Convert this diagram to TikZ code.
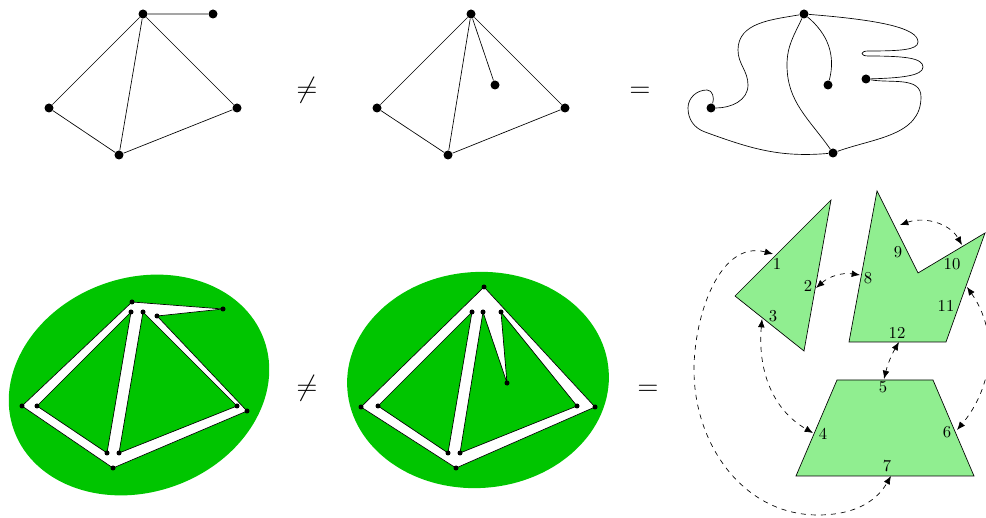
\documentclass[tikz,border=0pt]{standalone}
\usepackage{tikz}
\usetikzlibrary{arrows.meta, positioning, calc}
\definecolor{blobgreen}{RGB}{0,197,0}
\definecolor{piecegreen}{RGB}{144,238,144}

\begin{document}
\begin{tikzpicture}[x=0.6pt, y=-0.6pt, >={Latex[length=5pt,width=4pt]}]
  \tikzset{gnode/.style={circle, fill, minimum size=5.4pt, inner sep=0pt}}
  \tikzset{pnode/.style={circle, fill, minimum size=3pt, inner sep=0pt}}
  \tikzset{relsign/.style={font=\LARGE, inner sep=0pt}}
  \tikzset{edgelab/.style={inner sep=0pt}}
  \tikzset{glue/.style={<->, dashed}}
  \useasboundingbox (0,0) rectangle (986,518);

  % top row
  \node[gnode] (a1) at (143,14) {};
  \node[gnode] (a2) at (213,14) {};
  \node[gnode] (a3) at (49,108) {};
  \node[gnode] (a4) at (119,155) {};
  \node[gnode] (a5) at (237,108) {};
  \draw (a1) -- (a2) (a1) -- (a3) (a1) -- (a4) (a1) -- (a5) (a3) -- (a4) (a4) -- (a5);

  \node[relsign] (neqtop) at (307,90) {$\neq$};

  \node[gnode] (b1) at (471,14) {};
  \node[gnode] (b2) at (495,85) {};
  \node[gnode] (b3) at (377,108) {};
  \node[gnode] (b4) at (448,155) {};
  \node[gnode] (b5) at (565,108) {};
  \draw (b1) -- (b2) (b1) -- (b3) (b1) -- (b4) (b1) -- (b5) (b3) -- (b4) (b4) -- (b5);

  \node[relsign] (eqtop) at (640,92) {$=$};

  \node[gnode] (c1) at (804,14) {};
  \node[gnode] (c2) at (828,85) {};
  \node[gnode] (c3) at (866,79) {};
  \node[gnode] (c4) at (711,108) {};
  \node[gnode] (c5) at (833,153) {};
  \draw (c1) to[out=190,in=90] (738,50) to[out=-90,in=90] (748,85) to[out=-90,in=0] (c4);
  \draw (c4) to[out=70,in=0] (707,90) to[out=180,in=90] (688,108) to[out=-90,in=160] (705,132) to[out=-20,in=185] (c5);
  \draw (c1) to[out=245,in=90] (787,65) to[out=-90,in=125] (c5);
  \draw (c1) to[out=-40,in=75] (c2);
  \draw (c1) .. controls (880,20) and (918,28) .. (918,42) .. controls (918,50) and (900,51) .. (868,51)
    .. controls (860,51) and (860,56) .. (868,56) .. controls (905,56) and (923,58) .. (923,67)
    .. controls (923,76) and (900,78) .. (c3);
  \draw (c3) to[out=-10,in=90] (921,97) to[out=-90,in=20] (c5);

  % bottom row, thickened graphs
  \fill[blobgreen, rotate around={20:(139,385)}] (139,385) ellipse [x radius=133, y radius=107];
  \coordinate (p1) at (132,302);
  \coordinate (p2) at (223,309);
  \coordinate (p3) at (157,316);
  \coordinate (p4) at (247,411);
  \coordinate (p5) at (113,468);
  \coordinate (p6) at (22,406);
  \coordinate (p7) at (131,312);
  \coordinate (p8) at (37,406);
  \coordinate (p9) at (107,453);
  \coordinate (p10) at (143,312);
  \coordinate (p11) at (119,453);
  \coordinate (p12) at (237,406);
  \draw[fill=white] (p1) -- (p2) -- (p3) -- (p4) -- (p5) -- (p6) -- cycle;
  \draw[fill=blobgreen] (p7) -- (p8) -- (p9) -- cycle;
  \draw[fill=blobgreen] (p10) -- (p11) -- (p12) -- cycle;
  \foreach \p in {p1,p2,p3,p4,p5,p6,p7,p8,p9,p10,p11,p12}
    \node[pnode] (dot\p) at (\p) {};

  \node[relsign] (neqbot) at (307,388) {$\neq$};

  \fill[blobgreen, rotate around={4:(478,380)}] (478,380) ellipse [x radius=131, y radius=108];
  \coordinate (q1) at (484,287);
  \coordinate (q2) at (595,407);
  \coordinate (q3) at (456,468);
  \coordinate (q4) at (361,407);
  \coordinate (q5) at (472,312);
  \coordinate (q6) at (378,406);
  \coordinate (q7) at (448,453);
  \coordinate (q8) at (483,312);
  \coordinate (q9) at (507,383);
  \coordinate (q10) at (501,312);
  \coordinate (q11) at (577,406);
  \coordinate (q12) at (460,453);
  \draw[fill=white] (q1) -- (q2) -- (q3) -- (q4) -- cycle;
  \draw[fill=blobgreen] (q5) -- (q6) -- (q7) -- cycle;
  \draw[fill=blobgreen] (q8) -- (q9) -- (q10) -- (q11) -- (q12) -- cycle;
  \foreach \q in {q1,q2,q3,q4,q5,q6,q7,q8,q9,q10,q11,q12}
    \node[pnode] (dot\q) at (\q) {};

  \node[relsign] (eqbot) at (648,390) {$=$};

  % bottom row, pieces
  \draw[fill=piecegreen] (831,200) -- (804,351) -- (735,296) -- cycle;
  \draw[fill=piecegreen] (877,191) -- (918,273) -- (985,233) -- (946,342) -- (849,342) -- cycle;
  \draw[fill=piecegreen] (837,380) -- (933,380) -- (974,476) -- (796,476) -- cycle;

  \node[edgelab] (l1) at (777,264) {1};
  \node[edgelab] (l2) at (808,286) {2};
  \node[edgelab] (l3) at (773,316) {3};
  \node[edgelab] (l4) at (823,434) {4};
  \node[edgelab] (l5) at (883,387) {5};
  \node[edgelab] (l6) at (947,432) {6};
  \node[edgelab] (l7) at (887,466) {7};
  \node[edgelab] (l8) at (868,278) {8};
  \node[edgelab] (l9) at (898,252) {9};
  \node[edgelab] (l10) at (952,264) {10};
  \node[edgelab] (l11) at (946,306) {11};
  \node[edgelab] (l12) at (897,333) {12};

  \coordinate (g1) at (773,254);
  \coordinate (g2) at (816,288);
  \coordinate (g3) at (762,319);
  \coordinate (g4) at (813,433);
  \coordinate (g5) at (884,379);
  \coordinate (g6) at (957,430);
  \coordinate (g7) at (891,476);
  \coordinate (g8) at (860,275);
  \coordinate (g9) at (900,225);
  \coordinate (g10) at (962,245);
  \coordinate (g11) at (967,287);
  \coordinate (g12) at (899,342);

  \draw[glue] (g1) to[out=165,in=90] (694,370) to[out=-90,in=180] (818,515) to[out=0,in=-120] (g7);
  \draw[glue] (g2) to[bend left=25] (g8);
  \draw[glue] (g3) to[out=-95,in=150] (g4);
  \draw[glue] (g12) to[bend right=8] (g5);
  \draw[glue] (g11) to[out=-55,in=50] (g6);
  \draw[glue] (g9) to[out=20,in=120] (g10);
\end{tikzpicture}
\end{document}
